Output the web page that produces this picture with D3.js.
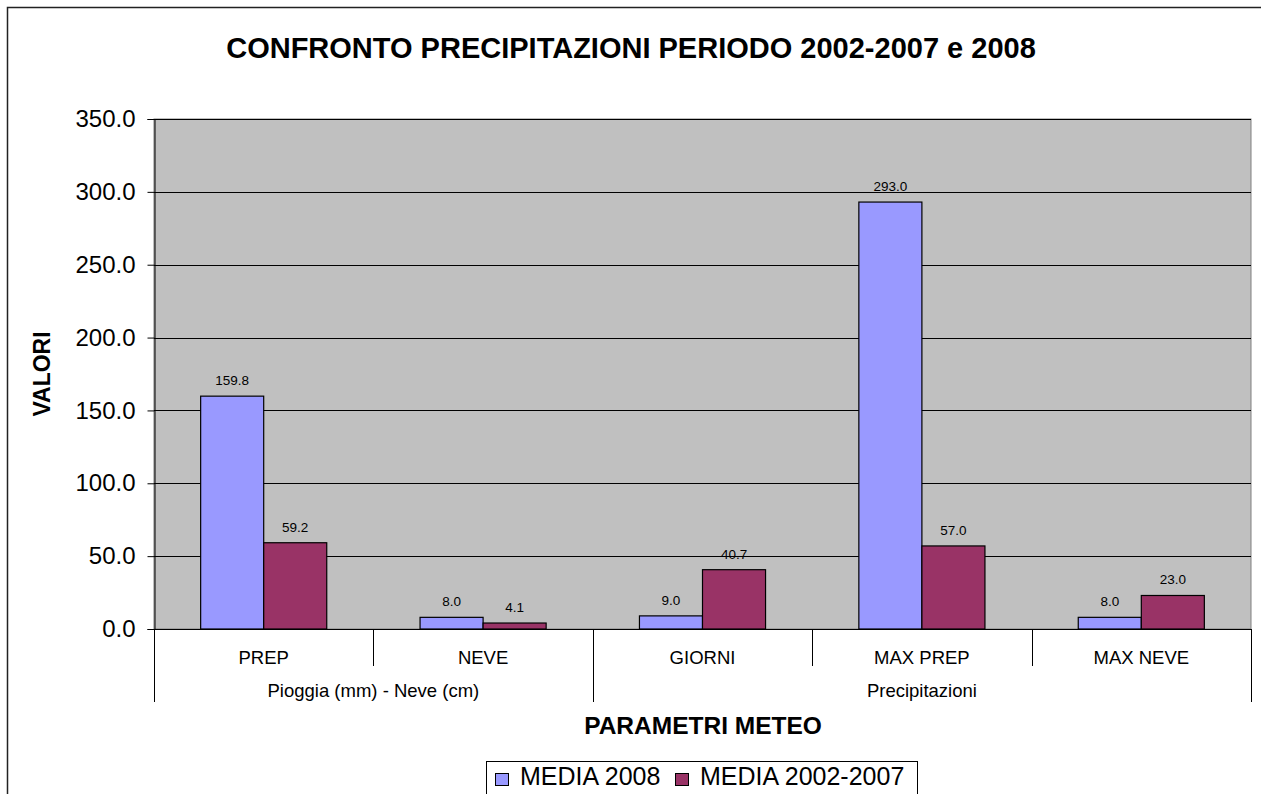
<!DOCTYPE html>
<html>
<head>
<meta charset="utf-8">
<script src="https://cdn.jsdelivr.net/npm/d3@7"></script>
<style>
  body { margin: 0; background: #fff; }
  svg { font-family: "Liberation Sans", Arial, sans-serif; }
</style>
</head>
<body>
<div id="chart"></div>
<script>
// data
const categories = ["PREP", "NEVE", "GIORNI", "MAX PREP", "MAX NEVE"];
const groups = [
  { name: "Pioggia (mm) - Neve (cm)", span: 2 },
  { name: "Precipitazioni", span: 3 }
];
const seriesNames = ["MEDIA 2008", "MEDIA 2002-2007"];
const media2008 = [159.8, 8.0, 9.0, 293.0, 8.0];
const media0207 = [59.2, 4.1, 40.7, 57.0, 23.0];
const yTicks = [0, 50, 100, 150, 200, 250, 300, 350];
const colors = ["#9999FF", "#993366"];

const W = 1261, H = 794;
const plot = { left: 154, right: 1251, top: 119, bottom: 629 };

const svg = d3.select("#chart").append("svg")
  .attr("width", W).attr("height", H);

// outer frame
svg.append("rect")
  .attr("x", 7.5).attr("y", 7.5)
  .attr("width", W).attr("height", H)
  .attr("fill", "#fff").attr("stroke", "#222").attr("stroke-width", 1.5);

svg.append("text")
  .attr("x", 631).attr("y", 58)
  .attr("text-anchor", "middle")
  .style("font-size", "29px").style("font-weight", "bold")
  .text("CONFRONTO PRECIPITAZIONI PERIODO 2002-2007 e 2008");

const x = d3.scaleBand()
  .domain(categories)
  .range([plot.left, plot.right])
  .paddingInner(0).paddingOuter(0);

const x1 = d3.scaleBand()
  .domain(seriesNames)
  .range([0, x.bandwidth()])
  .paddingOuter(0.74).paddingInner(0);

const y = d3.scaleLinear()
  .domain([0, 350])
  .range([plot.bottom, plot.top]);

// plot background
svg.append("rect")
  .attr("x", plot.left).attr("y", plot.top)
  .attr("width", plot.right - plot.left).attr("height", plot.bottom - plot.top)
  .attr("fill", "#C0C0C0").attr("stroke", "#808080").attr("stroke-width", 1);

// gridlines
svg.append("g").selectAll("line")
  .data(yTicks.slice(1))
  .join("line")
  .attr("x1", plot.left).attr("x2", plot.right)
  .attr("y1", d => Math.round(y(d)) + 0.5).attr("y2", d => Math.round(y(d)) + 0.5)
  .attr("stroke", "#000").attr("stroke-width", 1);

// y axis
const yAxis = svg.append("g")
  .attr("transform", `translate(${plot.left + 0.5},0)`)
  .call(d3.axisLeft(y).tickValues(yTicks).tickFormat(d3.format(".1f")).tickSize(7).tickPadding(12));
yAxis.select(".domain").attr("stroke", "#000");
yAxis.selectAll("text").style("font-size", "24px").attr("fill", "#000")
  .style("font-family", "Liberation Sans, Arial, sans-serif");

svg.append("text")
  .attr("transform", "translate(50,374) rotate(-90)")
  .attr("text-anchor", "middle")
  .style("font-size", "23px").style("font-weight", "bold")
  .text("VALORI");

// bars
const data = categories.map((c, i) => ({ cat: c, vals: [media2008[i], media0207[i]] }));
const cat = svg.append("g").selectAll("g")
  .data(data)
  .join("g")
  .attr("transform", d => `translate(${x(d.cat)},0)`);

cat.selectAll("rect")
  .data(d => d.vals.map((v, i) => ({ key: seriesNames[i], v, i })))
  .join("rect")
  .attr("x", d => x1(d.key))
  .attr("y", d => y(d.v))
  .attr("width", x1.bandwidth())
  .attr("height", d => y(0) - y(d.v))
  .attr("fill", d => colors[d.i])
  .attr("stroke", "#000").attr("stroke-width", 1.2);

cat.selectAll("text.lbl")
  .data(d => d.vals.map((v, i) => ({ key: seriesNames[i], v, i })))
  .join("text")
  .attr("class", "lbl")
  .attr("x", d => x1(d.key) + x1.bandwidth() / 2)
  .attr("y", d => y(d.v) - 11)
  .attr("text-anchor", "middle")
  .style("font-size", "13.5px")
  .text(d => d.v.toFixed(1));

// x axis baseline
svg.append("line")
  .attr("x1", plot.left).attr("x2", plot.right)
  .attr("y1", plot.bottom + 0.5).attr("y2", plot.bottom + 0.5)
  .attr("stroke", "#000");

// category dividers
svg.append("g").selectAll("line")
  .data(categories.slice(1))
  .join("line")
  .attr("x1", d => Math.round(x(d)) + 0.5).attr("x2", d => Math.round(x(d)) + 0.5)
  .attr("y1", plot.bottom).attr("y2", 666)
  .attr("stroke", "#000");

svg.append("g").selectAll("text")
  .data(categories)
  .join("text")
  .attr("x", d => x(d) + x.bandwidth() / 2)
  .attr("y", 664)
  .attr("text-anchor", "middle")
  .style("font-size", "18.5px")
  .text(d => d);

// group dividers and labels
let start = 0;
const groupPos = groups.map(g => {
  const x0 = x(categories[start]);
  const xe = x(categories[start + g.span - 1]) + x.bandwidth();
  start += g.span;
  return { name: g.name, x0, xe };
});
const bounds = [groupPos[0].x0].concat(groupPos.map(g => g.xe));
svg.append("g").selectAll("line")
  .data(bounds)
  .join("line")
  .attr("x1", d => Math.round(d) + 0.5).attr("x2", d => Math.round(d) + 0.5)
  .attr("y1", plot.bottom).attr("y2", 702)
  .attr("stroke", "#000");

svg.append("g").selectAll("text")
  .data(groupPos)
  .join("text")
  .attr("x", d => (d.x0 + d.xe) / 2)
  .attr("y", 697)
  .attr("text-anchor", "middle")
  .style("font-size", "18.5px")
  .text(d => d.name);

svg.append("text")
  .attr("x", 703).attr("y", 734)
  .attr("text-anchor", "middle")
  .style("font-size", "24.5px").style("font-weight", "bold")
  .text("PARAMETRI METEO");

// legend
const leg = svg.append("g").attr("transform", "translate(486,761)");
leg.append("rect")
  .attr("x", 0.5).attr("y", 0.5).attr("width", 431).attr("height", 40)
  .attr("fill", "#fff").attr("stroke", "#000");
const itemX = [9, 189];
seriesNames.forEach((s, i) => {
  const gx = itemX[i];
  leg.append("rect")
    .attr("x", gx + 0.5).attr("y", 12.5).attr("width", 13).attr("height", 12)
    .attr("fill", colors[i]).attr("stroke", "#000");
  leg.append("text")
    .attr("x", gx + 25).attr("y", 24)
    .style("font-size", "25px")
    .text(s);
});
</script>
</body>
</html>
